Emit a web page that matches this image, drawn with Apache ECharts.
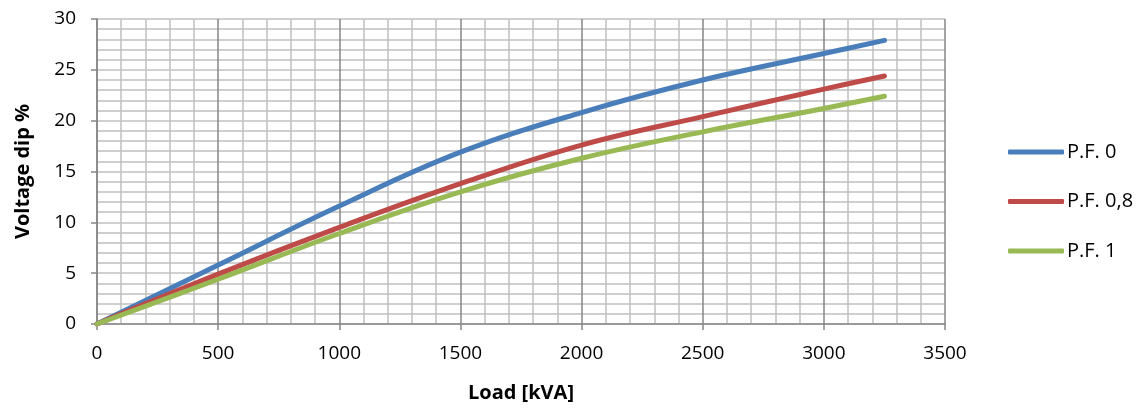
<!DOCTYPE html>
<html>
<head>
<meta charset="utf-8">
<script src="https://cdn.jsdelivr.net/npm/echarts@6/dist/echarts.min.js"></script>
<style>html,body{margin:0;padding:0;background:#fff}#c{width:1146px;height:409px}</style>
</head>
<body>
<div id="c"></div>
<script>
const loads = [0, 500, 1000, 1500, 2000, 2500, 3000, 3250];
const pf0 = [0, 5.8, 11.6, 16.9, 20.8, 24.0, 26.6, 27.9];
const pf08 = [0, 4.9, 9.5, 13.8, 17.6, 20.4, 23.1, 24.4];
const pf1 = [0, 4.4, 8.9, 13.0, 16.3, 18.9, 21.2, 22.4];
const seriesNames = ['P.F. 0', 'P.F. 0,8', 'P.F. 1'];
const colors = ['#4a7ebb', '#be4b48', '#98b954'];
const font = 'Open Sans';

function pairs(ys) { return loads.map((x, i) => [x, ys[i]]); }

const chart = echarts.init(document.getElementById('c'));
chart.setOption({
  animation: false,
  color: colors,
  grid: { left: 97, right: 201, top: 19, bottom: 85, containLabel: false },
  legend: {
    orient: 'vertical', left: 1003, top: 137, itemGap: 29.5,
    itemWidth: 56, itemHeight: 5,
    icon: 'roundRect',
    textStyle: { fontFamily: font, fontSize: 20, color: '#000', padding: [0, 0, 0, -2] },
    data: seriesNames
  },
  xAxis: {
    type: 'value', min: 0, max: 3500, interval: 500,
    name: 'Load [kVA]', nameLocation: 'middle', nameGap: 59,
    nameTextStyle: { fontFamily: font, fontSize: 20, fontWeight: 'bold', color: '#000' },
    axisLine: { show: true, lineStyle: { color: '#868686', width: 1.5 } },
    axisTick: { show: true, length: 6, lineStyle: { color: '#868686', width: 1.5 } },
    axisLabel: { fontFamily: font, fontSize: 19, color: '#000', margin: 20, formatter: v => String(v) },
    splitLine: { show: true, lineStyle: { color: '#868686', width: 1.5 } },
    minorTick: { show: false, splitNumber: 5 },
    minorSplitLine: { show: true, lineStyle: { color: '#c0c0c0', width: 1.5 } }
  },
  yAxis: {
    type: 'value', min: 0, max: 30, interval: 5,
    name: 'Voltage dip %', nameLocation: 'middle', nameGap: 64,
    nameTextStyle: { fontFamily: font, fontSize: 20, fontWeight: 'bold', color: '#000' },
    axisLine: { show: true, lineStyle: { color: '#868686', width: 1.5 } },
    axisTick: { show: true, length: 6, lineStyle: { color: '#868686', width: 1.5 } },
    axisLabel: { fontFamily: font, fontSize: 19, color: '#000', margin: 21 },
    splitLine: { show: true, lineStyle: { color: '#c0c0c0', width: 1.5 } },
    minorTick: { show: false, splitNumber: 5 },
    minorSplitLine: { show: true, lineStyle: { color: '#c0c0c0', width: 1.5 } }
  },
  series: [pf0, pf08, pf1].map((d, i) => ({
    name: seriesNames[i], type: 'line', data: pairs(d), smooth: 0.4,
    showSymbol: false, symbol: 'none',
    lineStyle: { width: 5, color: colors[i], cap: 'round' }
  }))
});
</script>
</body>
</html>
